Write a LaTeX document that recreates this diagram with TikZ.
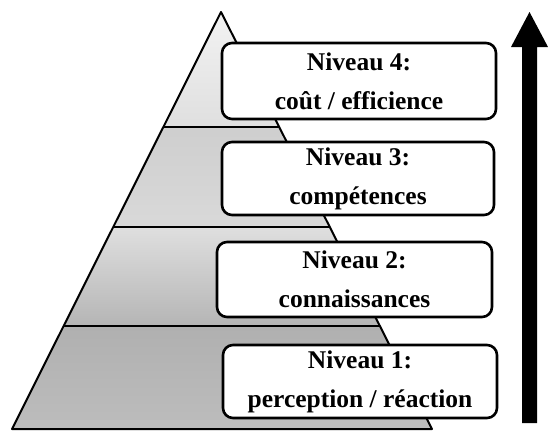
\documentclass[tikz,border=0pt]{standalone}
\usepackage{fontspec}
\setmainfont{Liberation Serif}
\begin{document}
\begin{tikzpicture}[x=1pt,y=-1pt,
  levelbox/.style={draw=black, line width=2.6pt, rounded corners=10pt, fill=white,
    align=center, inner sep=0pt, font=\fontsize{25.5}{39}\selectfont\bfseries},
  bandline/.style={draw=black, line width=2.4pt},
  edge/.style={draw=black, line width=2pt, line join=round}]
\useasboundingbox (0,0) rectangle (548,432);
% pyramid corners
\coordinate (A) at (221,12);
\coordinate (BL) at (12,429);
\coordinate (BR) at (432,429);
\coordinate (L1) at (163.4,127); \coordinate (R1) at (279.2,127);
\coordinate (L2) at (113.2,227); \coordinate (R2) at (329.8,227);
\coordinate (L3) at (63.6,326);  \coordinate (R3) at (379.9,326);
% bands
\shade[top color=gray!10, bottom color=gray!25] (A) -- (R1) -- (L1) -- cycle;
\shade[top color=gray!38, bottom color=gray!30] (L1) -- (R1) -- (R2) -- (L2) -- cycle;
\shade[top color=gray!25, bottom color=gray!58] (L2) -- (R2) -- (R3) -- (L3) -- cycle;
\shade[top color=gray!62, bottom color=gray!52] (L3) -- (R3) -- (BR) -- (BL) -- cycle;
\draw[edge] (BL) -- (A) -- (BR) -- cycle;
\draw[bandline] (L1) -- (R1);
\draw[bandline] (L2) -- (R2);
\draw[bandline] (L3) -- (R3);
% level boxes
\node[levelbox, minimum width=274pt, minimum height=76pt] (b4) at (359,81)
  {Niveau 4:\\coût / efficience};
\node[levelbox, minimum width=272pt, minimum height=73pt] (b3) at (358,178.5)
  {Niveau 3:\\compétences};
\node[levelbox, minimum width=275pt, minimum height=75pt] (b2) at (354.5,279.5)
  {Niveau 2:\\connaissances};
\node[levelbox, minimum width=274pt, minimum height=73pt] (b1) at (360,381.5)
  {Niveau 1:\\perception / réaction};
% upward arrow
\fill[black] (522,423) -- (537,423) -- (537,47) -- (548,47) -- (529.5,12)
  -- (511,47) -- (522,47) -- cycle;
\end{tikzpicture}
\end{document}
